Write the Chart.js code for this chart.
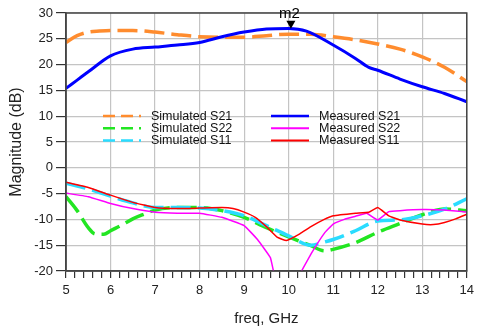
<!DOCTYPE html>
<html>
<head>
<meta charset="utf-8">
<script src="https://cdn.jsdelivr.net/npm/chart.js@4.4.0/dist/chart.umd.min.js"></script>
<style>
  html, body { margin: 0; padding: 0; background: #fff; }
  #wrap { width: 479px; height: 329px; }
</style>
</head>
<body>
<div id="wrap"><canvas id="grafico"></canvas></div>
<script>
// frequencias (GHz) e valores (dB)
const freqSim21 = [5, 5.25, 5.5, 5.75, 6, 6.5, 7, 7.5, 8, 8.5, 9, 9.5, 10, 10.5, 11, 11.5, 12, 12.5, 13, 13.5, 14];
const simS21 = [24.3, 25.6, 26.3, 26.5, 26.6, 26.6, 26.3, 25.8, 25.4, 25.3, 25.3, 25.6, 25.9, 25.9, 25.4, 24.8, 24.0, 23.0, 21.5, 19.5, 16.7];

const freqMeas21 = [5, 5.25, 5.5, 6, 6.5, 7, 7.5, 8, 8.5, 9, 9.5, 10, 10.4, 11, 11.5, 11.8, 12, 12.5, 13, 13.5, 14];
const measS21 = [15.4, 17.0, 18.6, 21.7, 23.0, 23.4, 23.8, 24.3, 25.4, 26.3, 26.9, 27.0, 26.5, 23.8, 21.2, 19.45, 18.9, 17.2, 15.7, 14.4, 12.8];

const freqSim11 = [5, 5.5, 6, 6.5, 7, 7.5, 8, 8.5, 9, 9.5, 10, 10.5, 10.8, 11, 11.5, 12, 12.5, 13, 13.5, 14];
const simS11 = [-3.0, -4.1, -5.5, -6.8, -7.7, -7.7, -7.8, -8.3, -9.3, -11.2, -13.2, -15.0, -14.4, -13.9, -12.2, -10.3, -10.1, -9.3, -8.0, -6.0];

const freqSim22 = [5, 5.25, 5.5, 5.65, 5.85, 6, 6.25, 6.5, 6.75, 7, 7.5, 8, 8.5, 9, 9.5, 10, 10.5, 10.8, 11, 11.5, 12, 12.5, 13, 13.5, 14];
const simS22 = [-5.6, -8.3, -11.6, -12.8, -12.9, -12.2, -11.1, -9.9, -9.0, -8.2, -7.7, -7.7, -8.3, -9.6, -11.6, -13.4, -15.1, -16.1, -15.8, -14.5, -12.5, -10.8, -9.1, -8.0, -8.3];

const freqMeas11 = [5, 5.5, 6, 6.5, 7, 7.5, 8, 8.5, 8.75, 9, 9.25, 9.5, 9.75, 9.95, 10.25, 10.5, 10.8, 11, 11.5, 11.8, 12, 12.25, 12.5, 13, 13.25, 13.5, 13.75, 14];
const measS11 = [-2.8, -3.8, -5.3, -6.7, -7.7, -7.9, -7.8, -7.7, -7.9, -8.6, -9.6, -11.4, -13.5, -14.1, -12.8, -11.4, -10.0, -9.3, -8.8, -8.6, -7.7, -9.3, -10.1, -10.9, -11.0, -10.6, -9.9, -9.0];

const freqMeas22 = [5, 5.5, 6, 6.5, 7, 7.5, 8, 8.5, 9, 9.3, 9.59, 9.66, 9.85, 10.1, 10.29, 10.53, 10.8, 11, 11.25, 11.5, 11.75, 12, 12.25, 12.5, 13, 13.5, 14];
const measS22 = [-4.9, -5.6, -6.9, -7.9, -8.6, -8.8, -8.8, -9.6, -11.2, -13.9, -17.4, -20, -23, -23, -20, -16.3, -12.7, -10.9, -10.0, -9.4, -8.8, -10.1, -8.5, -8.3, -8.1, -8.2, -8.6];

const yTicks = [-20, -15, -10, -5, 0, 5, 10, 15, 20, 25, 30];
const marcador = { nome: "m2", freq: 10.05, valor: 26.95 };

const pares = (xs, ys) => xs.map((x, i) => ({ x: x, y: ys[i] }));

const series = [
    { label: "Simulated S21", data: pares(freqSim21, simS21), cor: "#ff8c2e", largura: 3.5, dash: [20, 7], suave: true, ordem: 5 },
    { label: "Simulated S22", data: pares(freqSim22, simS22), cor: "#22e622", largura: 3.5, dash: [20, 7], suave: true, ordem: 3 },
    { label: "Simulated S11", data: pares(freqSim11, simS11), cor: "#2adcff", largura: 3.5, dash: [20, 7], suave: true, ordem: 2 },
    { label: "Measured S21", data: pares(freqMeas21, measS21), cor: "#0000ff", largura: 3, dash: [], suave: true, ordem: 4 },
    { label: "Measured S22", data: pares(freqMeas22, measS22), cor: "#ff00ff", largura: 1.5, dash: [], suave: false, ordem: 1 },
    { label: "Measured S11", data: pares(freqMeas11, measS11), cor: "#ff0000", largura: 1.5, dash: [], suave: false, ordem: 0 }
];

const ehInteiro = v => Math.abs(v - Math.round(v)) < 1e-6;

// moldura do grafico, legenda interna e marcador m2
const extras = {
    id: "extras",
    afterDatasetsDraw(chart) {
        const ctx = chart.ctx;
        const a = chart.chartArea;
        const sx = chart.scales.x, sy = chart.scales.y;

        ctx.save();
        ctx.strokeStyle = "#444";
        ctx.lineWidth = 1.5;
        ctx.strokeRect(a.left, a.top, a.right - a.left, a.bottom - a.top);

        // marcador
        const mx = sx.getPixelForValue(marcador.freq);
        const my = sy.getPixelForValue(marcador.valor);
        ctx.fillStyle = "#000";
        ctx.beginPath();
        ctx.moveTo(mx, my);
        ctx.lineTo(mx - 4.5, my - 8);
        ctx.lineTo(mx + 4.5, my - 8);
        ctx.closePath();
        ctx.fill();
        ctx.font = "15px Arial, 'Liberation Sans', sans-serif";
        ctx.textAlign = "center";
        ctx.textBaseline = "alphabetic";
        ctx.fillText(marcador.nome, mx - 1.5, my - 11);

        // legenda em duas colunas
        ctx.font = "12.5px Arial, 'Liberation Sans', sans-serif";
        ctx.textAlign = "left";
        ctx.textBaseline = "middle";
        const colunas = [a.left + 37, a.left + 205];
        series.forEach((s, i) => {
            const col = colunas[Math.floor(i / 3)];
            const y = a.top + 103 + (i % 3) * 12.2;
            ctx.strokeStyle = s.cor;
            ctx.lineWidth = s.largura > 2 ? 2.5 : 2;
            ctx.setLineDash(s.dash.length ? [12, 6] : []);
            ctx.beginPath();
            ctx.moveTo(col, y);
            ctx.lineTo(col + 38, y);
            ctx.stroke();
            ctx.setLineDash([]);
            ctx.fillStyle = "#111";
            ctx.fillText(s.label, col + 48, y + 0.5);
        });
        ctx.restore();
    }
};

const ctx = document.getElementById("grafico").getContext("2d");
new Chart(ctx, {
    type: "line",
    data: {
        datasets: series.map(s => ({
            label: s.label,
            data: s.data,
            borderColor: s.cor,
            backgroundColor: s.cor,
            borderWidth: s.largura,
            borderDash: s.dash,
            borderCapStyle: "butt",
            pointRadius: 0,
            fill: false,
            order: s.ordem,
            tension: s.suave ? 0.4 : 0.1,
            cubicInterpolationMode: s.suave ? "monotone" : "default"
        }))
    },
    options: {
        responsive: true,
        maintainAspectRatio: false,
        animation: false,
        layout: { padding: { top: 13, right: 6, left: 0, bottom: 0 } },
        plugins: {
            legend: { display: false },
            tooltip: { enabled: false }
        },
        scales: {
            x: {
                type: "linear",
                min: 5,
                max: 14,
                afterFit: s => { s.height = 58; },
                ticks: {
                    stepSize: 0.2,
                    autoSkip: false,
                    maxRotation: 0,
                    padding: 5,
                    color: "#222",
                    font: { size: 13, family: "Arial, 'Liberation Sans', sans-serif" },
                    callback: v => ehInteiro(v) ? String(Math.round(v)) : ""
                },
                grid: {
                    color: c => (c.tick && ehInteiro(c.tick.value)) ? "#c4c4c4" : "rgba(0,0,0,0)",
                    tickColor: "#333",
                    tickLength: 7,
                    lineWidth: 1.2
                },
                border: { color: "#444", width: 1.5 },
                title: {
                    display: true,
                    text: "freq, GHz",
                    color: "#222",
                    padding: { top: 0, bottom: 1 },
                    font: { size: 15, family: "Arial, 'Liberation Sans', sans-serif" }
                }
            },
            y: {
                min: -20,
                max: 30,
                afterFit: s => { s.width = 66; },
                afterBuildTicks: s => { s.ticks = yTicks.map(v => ({ value: v })); },
                ticks: {
                    padding: 3,
                    color: "#222",
                    font: { size: 13, family: "Arial, 'Liberation Sans', sans-serif" }
                },
                grid: {
                    color: "#c4c4c4",
                    tickColor: "#333",
                    tickLength: 10,
                    lineWidth: 1.2
                },
                border: { color: "#444", width: 1.5 },
                title: {
                    display: true,
                    text: "Magnitude (dB)",
                    color: "#222",
                    padding: { top: 7, bottom: 0 },
                    font: { size: 16, family: "Arial, 'Liberation Sans', sans-serif" }
                }
            }
        }
    },
    plugins: [extras]
});
</script>
</body>
</html>
